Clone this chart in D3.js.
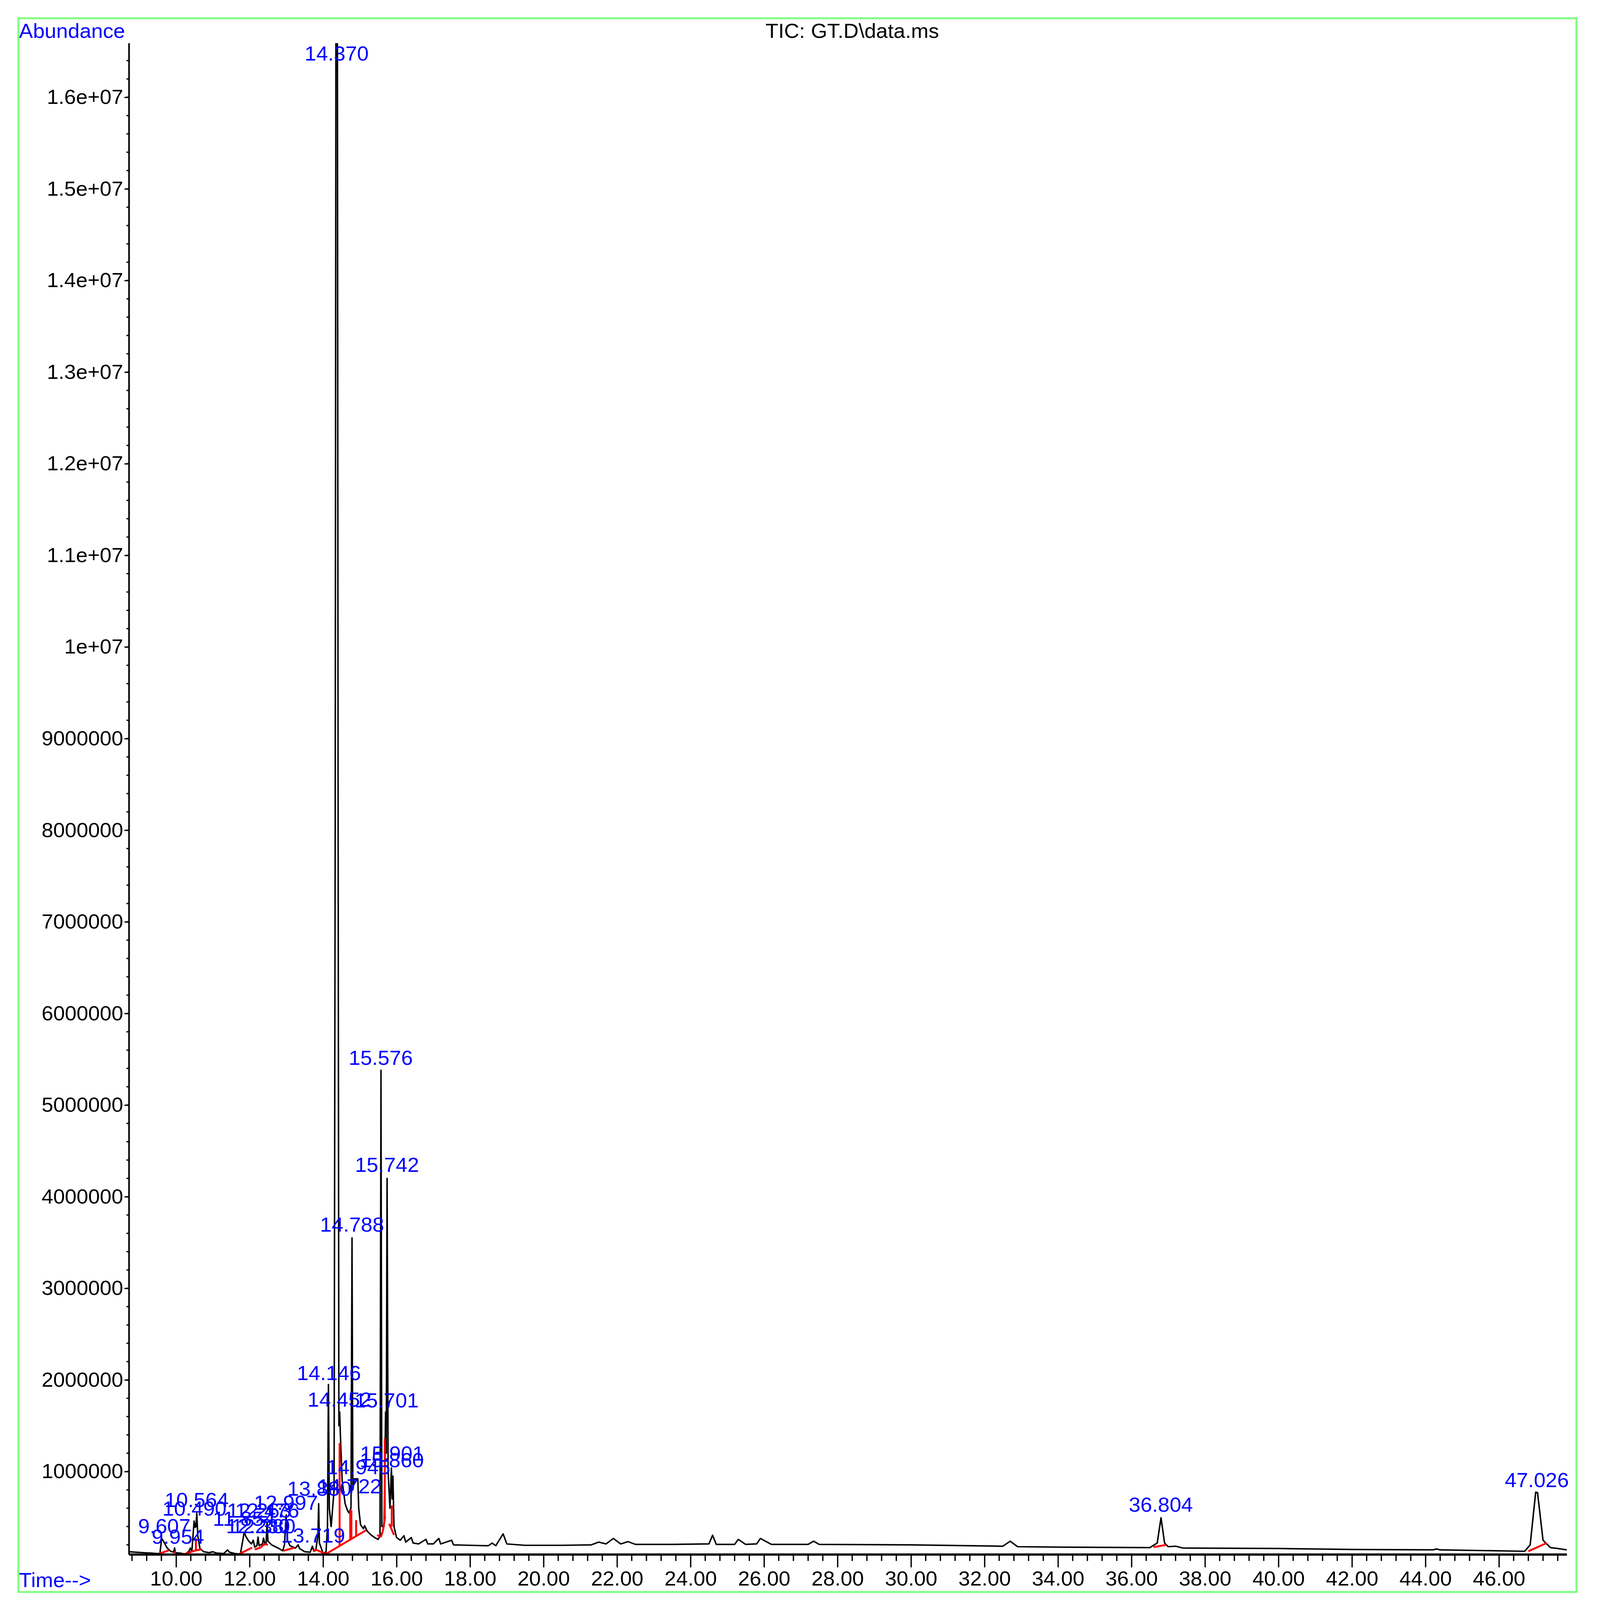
<!DOCTYPE html>
<html>
<head>
<meta charset="utf-8">
<script src="https://cdn.jsdelivr.net/npm/d3@7"></script>
<style>html,body{margin:0;padding:0;background:#fff;overflow:hidden;} svg{display:block;width:100vw;height:100vh;}</style>
</head>
<body>
<div id="chart"></div>
<script>
// chromatogram trace: [time (min), abundance]
const trace = [
  [8.72,1.25e5],[8.9,1.2e5],[9.1,1.15e5],[9.3,1.1e5],[9.5,1.05e5],[9.56,1.05e5],[9.607,2.7e5],[9.65,2.45e5],
  [9.75,1.7e5],[9.85,1.3e5],[9.93,1.2e5],[9.96,1.67e5],[9.98,1.15e5],[10.1,1.1e5],[10.25,1.0e5],[10.35,1.3e5],
  [10.39,1.65e5],[10.43,1.3e5],[10.47,3.5e5],[10.49,4.6e5],[10.52,3.9e5],[10.54,4.0e5],[10.564,5.45e5],[10.59,3.0e5],
  [10.65,1.6e5],[10.75,1.25e5],[10.9,1.15e5],[11.0,1.25e5],[11.1,1.1e5],[11.3,1.05e5],[11.4,1.45e5],[11.45,1.2e5],
  [11.6,1.05e5],[11.75,1.0e5],[11.82,2.6e5],[11.854,3.4e5],[11.9,2.9e5],[11.98,2.4e5],[12.05,2.1e5],[12.1,2.5e5],
  [12.14,1.75e5],[12.2,1.9e5],[12.23,2.85e5],[12.26,1.9e5],[12.3,2.0e5],[12.35,2.1e5],[12.38,2.75e5],[12.42,2.0e5],
  [12.45,2.2e5],[12.476,4.5e5],[12.5,2.4e5],[12.6,2.0e5],[12.7,1.8e5],[12.8,1.6e5],[12.9,1.35e5],[12.95,2.0e5],
  [12.997,5.27e5],[13.03,2.5e5],[13.1,1.9e5],[13.25,1.65e5],[13.319,2.0e5],[13.36,1.6e5],[13.5,1.25e5],[13.65,1.2e5],
  [13.71,1.85e5],[13.75,1.3e5],[13.8,1.4e5],[13.86,3.0e5],[13.88,6.5e5],[13.9,2.2e5],[14.0,1.1e5],[14.08,1.2e5],
  [14.12,4e5],[14.146,1.95e6],[14.17,6e5],[14.22,4e5],[14.3,8e5],[14.33,8e6],[14.35,16.7e6],[14.39,16.7e6],
  [14.41,8e6],[14.43,1.5e6],[14.452,1.65e6],[14.48,1.3e6],[14.52,9e5],[14.6,6.5e5],[14.66,5.8e5],[14.7,5.5e5],
  [14.76,6e5],[14.788,3.55e6],[14.81,8.0e5],[14.85,9.2e5],[14.945,9.2e5],[14.97,6e5],[15.02,4.2e5],[15.1,3.75e5],
  [15.13,4.1e5],[15.2,3.5e5],[15.3,3.1e5],[15.4,2.8e5],[15.5,2.6e5],[15.55,3.0e5],[15.576,5.38e6],[15.6,4e5],
  [15.66,4e5],[15.701,1.65e6],[15.72,1.2e6],[15.742,4.2e6],[15.77,1.0e6],[15.82,6e5],[15.86,1.04e6],[15.88,7e5],
  [15.901,9.5e5],[15.93,4e5],[16.0,2.8e5],[16.1,2.5e5],[16.2,3.0e5],[16.25,2.3e5],[16.4,2.8e5],[16.45,2.2e5],
  [16.6,2.1e5],[16.8,2.6e5],[16.85,2.1e5],[17.0,2.1e5],[17.15,2.7e5],[17.2,2.1e5],[17.5,2.5e5],[17.55,2.0e5],
  [18.0,1.95e5],[18.5,1.9e5],[18.6,2.2e5],[18.7,1.9e5],[18.9,3.2e5],[19.0,2.1e5],[19.5,1.95e5],[20.5,1.95e5],
  [21.3,2.0e5],[21.5,2.3e5],[21.7,2.1e5],[21.9,2.7e5],[22.1,2.1e5],[22.3,2.35e5],[22.5,2.05e5],[23.5,2.05e5],
  [24.5,2.1e5],[24.6,3.05e5],[24.7,2.05e5],[25.2,2.05e5],[25.3,2.6e5],[25.5,2.05e5],[25.8,2.1e5],[25.9,2.7e5],
  [26.2,2.05e5],[27.2,2.05e5],[27.35,2.4e5],[27.5,2.05e5],[30,2.0e5],[32.5,1.85e5],[32.7,2.4e5],[32.9,1.8e5],
  [34,1.75e5],[36.5,1.7e5],[36.7,2.2e5],[36.804,4.95e5],[36.9,2.2e5],[37.0,1.8e5],[37.2,1.85e5],[37.4,1.65e5],
  [40,1.6e5],[42,1.5e5],[44.2,1.45e5],[44.3,1.55e5],[44.4,1.45e5],[46.7,1.3e5],[46.85,2.0e5],[47.0,7.75e5],
  [47.05,7.7e5],[47.2,2.5e5],[47.4,1.7e5],[47.6,1.6e5],[47.85,1.45e5]
];

// integration baselines / drop lines (red): [t1, v1, t2, v2]
const integ = [
  [9.55,1.05e5,9.80,1.4e5],[9.94,1.2e5,9.99,1.2e5],[10.23,1.0e5,10.54,1.4e5],[10.54,1.4e5,10.70,1.5e5],
  [10.54,1.4e5,10.54,2.7e5],[11.72,1.0e5,12.07,1.7e5],[12.14,1.5e5,12.30,1.7e5],[12.30,1.7e5,12.40,2.1e5],
  [12.40,2.1e5,12.5,2.0e5],[12.92,1.35e5,13.22,1.7e5],[13.73,1.3e5,13.78,1.5e5],[13.78,1.5e5,14.08,1.0e5],
  [14.08,1.0e5,15.17,3.6e5],[14.45,1.88e5,14.45,1.31e6],[14.74,2.57e5,14.74,5.8e5],[14.77,2.65e5,14.77,5.8e5],
  [14.9,2.96e5,14.9,4.7e5],[15.47,3.08e5,15.57,2.84e5],[15.57,2.84e5,15.63,3.55e5],[15.63,3.55e5,15.69,5.1e5],
  [15.68,5.0e5,15.68,1.36e6],[15.80,4.3e5,15.93,3.08e5],[15.87,4.0e5,15.87,6.3e5],
  [36.6,1.75e5,36.95,2.0e5],[46.8,1.3e5,47.3,2.2e5]
];

// peak labels: [text, centre time, baseline abundance]
const peakLabels = [
  ["9.607",9.68,3.28e5],["9.954",10.05,2.14e5],["10.490",10.50,5.17e5],["10.564",10.56,6.12e5],
  ["11.854",11.85,4.09e5],["12.230",12.23,3.28e5],["12.263",12.26,4.98e5],["12.380",12.38,3.28e5],
  ["12.476",12.48,4.98e5],["12.997",12.99,5.83e5],["13.719",13.73,2.23e5],["13.880",13.90,7.35e5],
  ["14.146",14.16,2.0e6],["14.370",14.37,16.4e6],["14.452",14.45,1.71e6],["14.722",14.72,7.63e5],
  ["14.788",14.79,3.62e6],["14.945",14.96,9.72e5],["15.576",15.57,5.44e6],["15.701",15.73,1.70e6],
  ["15.742",15.74,4.27e6],["15.860",15.87,1.047e6],["15.901",15.88,1.12e6],
  ["36.804",36.80,5.63e5],["47.026",47.03,8.3e5]
];

const xTicks = d3.range(10, 47, 2);
const yTicks = d3.range(1e6, 1.61e7, 1e6);
const yTickLabels = ["1000000","2000000","3000000","4000000","5000000","6000000","7000000","8000000",
  "9000000","1e+07","1.1e+07","1.2e+07","1.3e+07","1.4e+07","1.5e+07","1.6e+07"];

const W = 4885, H = 5000;
const font = "'Liberation Sans', Arial, sans-serif";
const fs = 64;

const x = d3.scaleLinear().domain([8.72, 47.85]).range([394, 4784]);
const y = d3.scaleLinear().domain([94000, 16.59e6]).range([4858, 135]);

const svg = d3.select("#chart").append("svg")
  .attr("viewBox", `0 0 ${W} ${H}`).attr("preserveAspectRatio", "none");

svg.append("rect").attr("x", 56).attr("y", 57).attr("width", 4757).attr("height", 4918)
  .attr("fill", "none").attr("stroke", "#80ff80").attr("stroke-width", 6);

svg.append("text").attr("x", 58).attr("y", 118).attr("fill", "#0000ff")
  .style("font-family", font).style("font-size", fs + "px").text("Abundance");
svg.append("text").attr("x", 2602).attr("y", 118).attr("text-anchor", "middle").attr("fill", "#000")
  .style("font-family", font).style("font-size", fs + "px").text("TIC: GT.D\\data.ms");
svg.append("text").attr("x", 58).attr("y", 4960).attr("fill", "#0000ff")
  .style("font-family", font).style("font-size", fs + "px").text("Time-->");

const plot = svg.append("g");
plot.append("clipPath").attr("id", "clip").append("rect")
  .attr("x", 394).attr("y", 135).attr("width", 4390).attr("height", 4723);

// y axis
const yAxis = d3.axisLeft(y).tickValues(yTicks).tickSize(14)
  .tickFormat((d, i) => yTickLabels[i]);
const gy = svg.append("g").attr("transform", "translate(394,0)").call(yAxis);
gy.select(".domain").attr("d", `M0,${y.range()[1]}V${y.range()[0]}`).attr("stroke-width", 5);
gy.selectAll(".tick line").attr("stroke-width", 4);
gy.selectAll(".tick text").attr("x", -18).style("font-family", font).style("font-size", fs + "px").attr("fill", "#000");
gy.selectAll(".minor").data(d3.range(2e5, 16.59e6, 2e5)).join("line")
  .attr("class", "minor").attr("x1", 0).attr("x2", -8).attr("y1", d => y(d)).attr("y2", d => y(d))
  .attr("stroke", "#000").attr("stroke-width", 4);

// x axis
const xAxis = d3.axisBottom(x).tickValues(xTicks).tickSize(40).tickFormat(d3.format(".2f"));
const gx = svg.append("g").attr("transform", "translate(0,4858)").call(xAxis);
gx.select(".domain").attr("d", `M${x.range()[0]},0H${x.range()[1]}`).attr("stroke-width", 7);
gx.selectAll(".tick line").attr("stroke-width", 4);
gx.selectAll(".tick text").attr("y", 52).attr("dy", "0.71em").style("font-family", font).style("font-size", fs + "px").attr("fill", "#000");
gx.selectAll(".minor").data(d3.range(8.8, 47.85, 0.4).filter(t => Math.abs((t / 2) - Math.round(t / 2)) > 0.01)).join("line")
  .attr("class", "minor").attr("x1", d => x(d)).attr("x2", d => x(d)).attr("y1", 0).attr("y2", 20)
  .attr("stroke", "#000").attr("stroke-width", 4);

// trace
const line = d3.line().x(d => x(d[0])).y(d => y(d[1]));
plot.append("path").datum(trace).attr("d", line).attr("clip-path", "url(#clip)")
  .attr("fill", "none").attr("stroke", "#000").attr("stroke-width", 4.5).attr("stroke-linejoin", "round");

// integration marks
plot.selectAll(".integ").data(integ).join("line").attr("class", "integ")
  .attr("x1", d => x(d[0])).attr("y1", d => y(d[1])).attr("x2", d => x(d[2])).attr("y2", d => y(d[3]))
  .attr("stroke", "#ff0000").attr("stroke-width", 6);

// peak labels
plot.selectAll(".plab").data(peakLabels).join("text").attr("class", "plab")
  .attr("x", d => x(d[1])).attr("y", d => y(d[2])).attr("text-anchor", "middle").attr("fill", "#0000ff")
  .style("font-family", font).style("font-size", fs + "px").text(d => d[0]);
</script>
</body>
</html>
